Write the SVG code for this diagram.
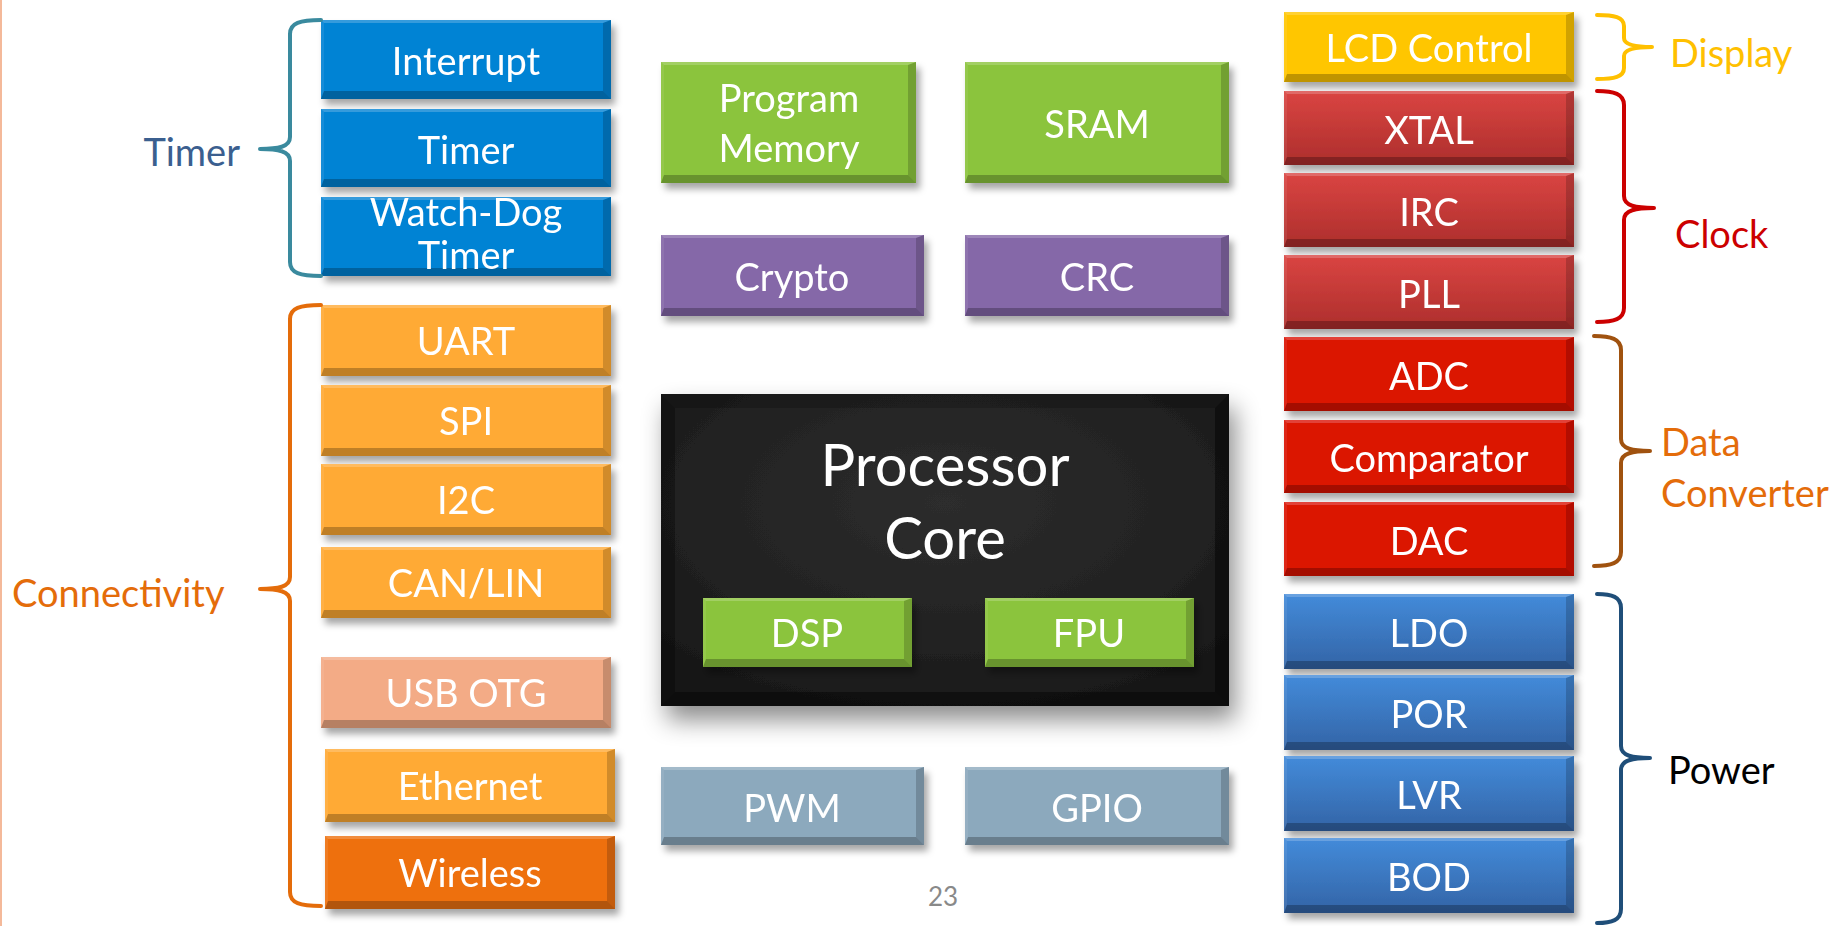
<svg xmlns="http://www.w3.org/2000/svg" width="1835" height="926" viewBox="0 0 1835 926">
<defs>
<filter id="sh" x="-10%" y="-20%" width="125%" height="150%">
<feDropShadow dx="4" dy="6" stdDeviation="3.5" flood-color="#000" flood-opacity="0.35"/>
</filter>
<filter id="shc" x="-10%" y="-10%" width="125%" height="135%">
<feDropShadow dx="6" dy="14" stdDeviation="12" flood-color="#000" flood-opacity="0.45"/>
</filter>
<linearGradient id="gRed" x1="0" y1="0" x2="0" y2="1">
<stop offset="0" stop-color="#DA4542"/><stop offset="1" stop-color="#AD2E2C"/>
</linearGradient>
<linearGradient id="gBlue" x1="0" y1="0" x2="0" y2="1">
<stop offset="0" stop-color="#438BDA"/><stop offset="1" stop-color="#3364A6"/>
</linearGradient>
<radialGradient id="gCore" cx="0.5" cy="0.35" r="0.8">
<stop offset="0" stop-color="#2D2D2D"/><stop offset="0.5" stop-color="#232323"/><stop offset="1" stop-color="#141414"/>
</radialGradient>
</defs>
<style>
text{font-family:Lato,"Open Sans","Liberation Sans",sans-serif;}
.t{fill:#fff;font-size:38px;text-anchor:middle;}
.big{fill:#fff;font-size:58px;text-anchor:middle;}
.bt{fill:#fff;opacity:.2;}
.bl{fill:#fff;opacity:.08;}
.br{fill:#000;opacity:.18;}
.bb{fill:#000;opacity:.25;}
.brace{fill:none;stroke-width:4;stroke-linecap:round;stroke-linejoin:round;}
.lbl{font-size:38px;}
</style>
<rect width="1835" height="926" fill="#fff"/>
<line x1="1" y1="0" x2="1" y2="926" stroke="#F4B99A" stroke-width="2"/>

<!-- Left column: Timer -->
<g id="interrupt" filter="url(#sh)" transform="translate(321,20)">
<rect width="290" height="79" fill="#0483D4"/>
<polygon class="bt" points="0,0 290,0 282,3 3,3"/><polygon class="bl" points="0,0 3,3 3,71 0,79"/>
<polygon class="br" points="290,0 290,79 282,71 282,3"/><polygon class="bb" points="0,79 290,79 282,71 3,71"/>
<text class="t" x="145" y="55">Interrupt</text>
</g>
<g id="timer" filter="url(#sh)" transform="translate(321,109)">
<rect width="290" height="78" fill="#0483D4"/>
<polygon class="bt" points="0,0 290,0 282,3 3,3"/><polygon class="bl" points="0,0 3,3 3,70 0,78"/>
<polygon class="br" points="290,0 290,78 282,70 282,3"/><polygon class="bb" points="0,78 290,78 282,70 3,70"/>
<text class="t" x="145" y="55">Timer</text>
</g>
<g id="watchdog" filter="url(#sh)" transform="translate(321,197)">
<rect width="290" height="79" fill="#0483D4"/>
<polygon class="bt" points="0,0 290,0 282,3 3,3"/><polygon class="bl" points="0,0 3,3 3,71 0,79"/>
<polygon class="br" points="290,0 290,79 282,71 282,3"/><polygon class="bb" points="0,79 290,79 282,71 3,71"/>
<text class="t" x="145" y="29">Watch-Dog</text>
<text class="t" x="145" y="72">Timer</text>
</g>

<!-- Left column: Connectivity -->
<g id="uart" filter="url(#sh)" transform="translate(321,305)">
<rect width="290" height="71" fill="#FFAA36"/>
<polygon class="bt" points="0,0 290,0 282,3 3,3"/><polygon class="bl" points="0,0 3,3 3,63 0,71"/>
<polygon class="br" points="290,0 290,71 282,63 282,3"/><polygon class="bb" points="0,71 290,71 282,63 3,63"/>
<text class="t" x="145" y="50">UART</text>
</g>
<g id="spi" filter="url(#sh)" transform="translate(321,385)">
<rect width="290" height="71" fill="#FFAA36"/>
<polygon class="bt" points="0,0 290,0 282,3 3,3"/><polygon class="bl" points="0,0 3,3 3,63 0,71"/>
<polygon class="br" points="290,0 290,71 282,63 282,3"/><polygon class="bb" points="0,71 290,71 282,63 3,63"/>
<text class="t" x="145" y="50">SPI</text>
</g>
<g id="i2c" filter="url(#sh)" transform="translate(321,464)">
<rect width="290" height="71" fill="#FFAA36"/>
<polygon class="bt" points="0,0 290,0 282,3 3,3"/><polygon class="bl" points="0,0 3,3 3,63 0,71"/>
<polygon class="br" points="290,0 290,71 282,63 282,3"/><polygon class="bb" points="0,71 290,71 282,63 3,63"/>
<text class="t" x="145" y="50">I2C</text>
</g>
<g id="canlin" filter="url(#sh)" transform="translate(321,547)">
<rect width="290" height="71" fill="#FFAA36"/>
<polygon class="bt" points="0,0 290,0 282,3 3,3"/><polygon class="bl" points="0,0 3,3 3,63 0,71"/>
<polygon class="br" points="290,0 290,71 282,63 282,3"/><polygon class="bb" points="0,71 290,71 282,63 3,63"/>
<text class="t" x="145" y="50">CAN/LIN</text>
</g>
<g id="usbotg" filter="url(#sh)" transform="translate(321,657)">
<rect width="290" height="71" fill="#F3AB86"/>
<polygon class="bt" points="0,0 290,0 282,3 3,3"/><polygon class="bl" points="0,0 3,3 3,63 0,71"/>
<polygon class="br" points="290,0 290,71 282,63 282,3"/><polygon class="bb" points="0,71 290,71 282,63 3,63"/>
<text class="t" x="145" y="50">USB OTG</text>
</g>
<g id="ethernet" filter="url(#sh)" transform="translate(325,749)">
<rect width="290" height="73" fill="#FFAA36"/>
<polygon class="bt" points="0,0 290,0 282,3 3,3"/><polygon class="bl" points="0,0 3,3 3,65 0,73"/>
<polygon class="br" points="290,0 290,73 282,65 282,3"/><polygon class="bb" points="0,73 290,73 282,65 3,65"/>
<text class="t" x="145" y="51">Ethernet</text>
</g>
<g id="wireless" filter="url(#sh)" transform="translate(325,836)">
<rect width="290" height="73" fill="#EE700E"/>
<polygon class="bt" points="0,0 290,0 282,3 3,3"/><polygon class="bl" points="0,0 3,3 3,65 0,73"/>
<polygon class="br" points="290,0 290,73 282,65 282,3"/><polygon class="bb" points="0,73 290,73 282,65 3,65"/>
<text class="t" x="145" y="51">Wireless</text>
</g>

<!-- Center column -->
<g id="program-memory" filter="url(#sh)" transform="translate(661,62)">
<rect width="255" height="121" fill="#8BC43D"/>
<polygon class="bt" points="0,0 255,0 247,3 3,3"/><polygon class="bl" points="0,0 3,3 3,113 0,121"/>
<polygon class="br" points="255,0 255,121 247,113 247,3"/><polygon class="bb" points="0,121 255,121 247,113 3,113"/>
<text class="t" x="128" y="50">Program</text>
<text class="t" x="128" y="100">Memory</text>
</g>
<g id="sram" filter="url(#sh)" transform="translate(965,62)">
<rect width="264" height="121" fill="#8BC43D"/>
<polygon class="bt" points="0,0 264,0 256,3 3,3"/><polygon class="bl" points="0,0 3,3 3,113 0,121"/>
<polygon class="br" points="264,0 264,121 256,113 256,3"/><polygon class="bb" points="0,121 264,121 256,113 3,113"/>
<text class="t" x="132" y="76">SRAM</text>
</g>
<g id="crypto" filter="url(#sh)" transform="translate(661,235)">
<rect width="263" height="81" fill="#8568A8"/>
<polygon class="bt" points="0,0 263,0 255,3 3,3"/><polygon class="bl" points="0,0 3,3 3,73 0,81"/>
<polygon class="br" points="263,0 263,81 255,73 255,3"/><polygon class="bb" points="0,81 263,81 255,73 3,73"/>
<text class="t" x="131" y="56">Crypto</text>
</g>
<g id="crc" filter="url(#sh)" transform="translate(965,235)">
<rect width="264" height="81" fill="#8568A8"/>
<polygon class="bt" points="0,0 264,0 256,3 3,3"/><polygon class="bl" points="0,0 3,3 3,73 0,81"/>
<polygon class="br" points="264,0 264,81 256,73 256,3"/><polygon class="bb" points="0,81 264,81 256,73 3,73"/>
<text class="t" x="132" y="56">CRC</text>
</g>

<g id="processor-core" transform="translate(661,394)">
<g filter="url(#shc)">
<rect width="568" height="312" fill="url(#gCore)"/>
</g>
<polygon fill="#000" opacity=".18" points="0,0 568,0 554,14 14,14"/>
<polygon fill="#000" opacity=".3" points="0,0 14,14 14,298 0,312"/>
<polygon fill="#000" opacity=".45" points="568,0 568,312 554,298 554,14"/>
<polygon fill="#000" opacity=".4" points="0,312 568,312 554,298 14,298"/>
<text class="big" x="284" y="92">Processor</text>
<text class="big" x="284" y="165">Core</text>
</g>
<g id="dsp" filter="url(#sh)" transform="translate(703,598)">
<rect width="209" height="69" fill="#8BC43D"/>
<polygon class="bt" points="0,0 209,0 201,3 3,3"/><polygon class="bl" points="0,0 3,3 3,61 0,69"/>
<polygon class="br" points="209,0 209,69 201,61 201,3"/><polygon class="bb" points="0,69 209,69 201,61 3,61"/>
<text class="t" x="104" y="49">DSP</text>
</g>
<g id="fpu" filter="url(#sh)" transform="translate(985,598)">
<rect width="209" height="69" fill="#8BC43D"/>
<polygon class="bt" points="0,0 209,0 201,3 3,3"/><polygon class="bl" points="0,0 3,3 3,61 0,69"/>
<polygon class="br" points="209,0 209,69 201,61 201,3"/><polygon class="bb" points="0,69 209,69 201,61 3,61"/>
<text class="t" x="104" y="49">FPU</text>
</g>

<g id="pwm" filter="url(#sh)" transform="translate(661,767)">
<rect width="263" height="78" fill="#8CA9BD"/>
<polygon class="bt" points="0,0 263,0 255,3 3,3"/><polygon class="bl" points="0,0 3,3 3,70 0,78"/>
<polygon class="br" points="263,0 263,78 255,70 255,3"/><polygon class="bb" points="0,78 263,78 255,70 3,70"/>
<text class="t" x="131" y="55">PWM</text>
</g>
<g id="gpio" filter="url(#sh)" transform="translate(965,767)">
<rect width="264" height="78" fill="#8CA9BD"/>
<polygon class="bt" points="0,0 264,0 256,3 3,3"/><polygon class="bl" points="0,0 3,3 3,70 0,78"/>
<polygon class="br" points="264,0 264,78 256,70 256,3"/><polygon class="bb" points="0,78 264,78 256,70 3,70"/>
<text class="t" x="132" y="55">GPIO</text>
</g>

<!-- Right column -->
<g id="lcd-control" filter="url(#sh)" transform="translate(1284,12)">
<rect width="290" height="70" fill="#FFC600"/>
<polygon class="bt" points="0,0 290,0 282,3 3,3"/><polygon class="bl" points="0,0 3,3 3,62 0,70"/>
<polygon class="br" points="290,0 290,70 282,62 282,3"/><polygon class="bb" points="0,70 290,70 282,62 3,62"/>
<text class="t" x="145" y="50">LCD Control</text>
</g>
<g id="xtal" filter="url(#sh)" transform="translate(1284,91)">
<rect width="290" height="74" fill="url(#gRed)"/>
<polygon class="bt" points="0,0 290,0 282,3 3,3"/><polygon class="bl" points="0,0 3,3 3,66 0,74"/>
<polygon class="br" points="290,0 290,74 282,66 282,3"/><polygon class="bb" points="0,74 290,74 282,66 3,66"/>
<text class="t" x="145" y="53">XTAL</text>
</g>
<g id="irc" filter="url(#sh)" transform="translate(1284,173)">
<rect width="290" height="74" fill="url(#gRed)"/>
<polygon class="bt" points="0,0 290,0 282,3 3,3"/><polygon class="bl" points="0,0 3,3 3,66 0,74"/>
<polygon class="br" points="290,0 290,74 282,66 282,3"/><polygon class="bb" points="0,74 290,74 282,66 3,66"/>
<text class="t" x="145" y="53">IRC</text>
</g>
<g id="pll" filter="url(#sh)" transform="translate(1284,255)">
<rect width="290" height="74" fill="url(#gRed)"/>
<polygon class="bt" points="0,0 290,0 282,3 3,3"/><polygon class="bl" points="0,0 3,3 3,66 0,74"/>
<polygon class="br" points="290,0 290,74 282,66 282,3"/><polygon class="bb" points="0,74 290,74 282,66 3,66"/>
<text class="t" x="145" y="53">PLL</text>
</g>
<g id="adc" filter="url(#sh)" transform="translate(1284,337)">
<rect width="290" height="74" fill="#DB1405"/>
<polygon class="bt" points="0,0 290,0 282,3 3,3"/><polygon class="bl" points="0,0 3,3 3,66 0,74"/>
<polygon class="br" points="290,0 290,74 282,66 282,3"/><polygon class="bb" points="0,74 290,74 282,66 3,66"/>
<text class="t" x="145" y="53">ADC</text>
</g>
<g id="comparator" filter="url(#sh)" transform="translate(1284,420)">
<rect width="290" height="73" fill="#DB1405"/>
<polygon class="bt" points="0,0 290,0 282,3 3,3"/><polygon class="bl" points="0,0 3,3 3,65 0,73"/>
<polygon class="br" points="290,0 290,73 282,65 282,3"/><polygon class="bb" points="0,73 290,73 282,65 3,65"/>
<text class="t" x="145" y="52">Comparator</text>
</g>
<g id="dac" filter="url(#sh)" transform="translate(1284,502)">
<rect width="290" height="74" fill="#DB1405"/>
<polygon class="bt" points="0,0 290,0 282,3 3,3"/><polygon class="bl" points="0,0 3,3 3,66 0,74"/>
<polygon class="br" points="290,0 290,74 282,66 282,3"/><polygon class="bb" points="0,74 290,74 282,66 3,66"/>
<text class="t" x="145" y="53">DAC</text>
</g>
<g id="ldo" filter="url(#sh)" transform="translate(1284,594)">
<rect width="290" height="75" fill="url(#gBlue)"/>
<polygon class="bt" points="0,0 290,0 282,3 3,3"/><polygon class="bl" points="0,0 3,3 3,67 0,75"/>
<polygon class="br" points="290,0 290,75 282,67 282,3"/><polygon class="bb" points="0,75 290,75 282,67 3,67"/>
<text class="t" x="145" y="53">LDO</text>
</g>
<g id="por" filter="url(#sh)" transform="translate(1284,675)">
<rect width="290" height="75" fill="url(#gBlue)"/>
<polygon class="bt" points="0,0 290,0 282,3 3,3"/><polygon class="bl" points="0,0 3,3 3,67 0,75"/>
<polygon class="br" points="290,0 290,75 282,67 282,3"/><polygon class="bb" points="0,75 290,75 282,67 3,67"/>
<text class="t" x="145" y="53">POR</text>
</g>
<g id="lvr" filter="url(#sh)" transform="translate(1284,756)">
<rect width="290" height="75" fill="url(#gBlue)"/>
<polygon class="bt" points="0,0 290,0 282,3 3,3"/><polygon class="bl" points="0,0 3,3 3,67 0,75"/>
<polygon class="br" points="290,0 290,75 282,67 282,3"/><polygon class="bb" points="0,75 290,75 282,67 3,67"/>
<text class="t" x="145" y="53">LVR</text>
</g>
<g id="bod" filter="url(#sh)" transform="translate(1284,838)">
<rect width="290" height="75" fill="url(#gBlue)"/>
<polygon class="bt" points="0,0 290,0 282,3 3,3"/><polygon class="bl" points="0,0 3,3 3,67 0,75"/>
<polygon class="br" points="290,0 290,75 282,67 282,3"/><polygon class="bb" points="0,75 290,75 282,67 3,67"/>
<text class="t" x="145" y="53">BOD</text>
</g>

<!-- Brackets -->
<g id="connectors">
<path class="brace" stroke="#3A8A9E" d="M321,20 C300,20 290,23 290,34 L290,137 C290,147 278,149 260,149 C278,149 290,151 290,161 L290,262 C290,273 300,276 321,276"/>
<path class="brace" stroke="#E46C0A" d="M321,305 C300,305 290,308 290,319 L290,577 C290,587 278,589 260,589 C278,589 290,591 290,601 L290,892 C290,903 300,906 321,906"/>
<path class="brace" stroke="#FFC000" d="M1597,15 C1614,15 1624,17 1624,26 L1624,38 C1624,45 1636,47 1652,47 C1636,47 1624,49 1624,56 L1624,68 C1624,77 1614,79 1597,79"/>
<path class="brace" stroke="#CC0000" d="M1597,91 C1614,91 1624,94 1624,105 L1624,196 C1624,206 1636,208 1654,208 C1636,208 1624,210 1624,220 L1624,308 C1624,319 1614,322 1597,322"/>
<path class="brace" stroke="#A0520F" d="M1594,336 C1611,336 1621,339 1621,350 L1621,439 C1621,449 1633,451 1650,451 C1633,451 1621,453 1621,463 L1621,552 C1621,563 1611,566 1594,566"/>
<path class="brace" stroke="#1F4E79" d="M1597,594 C1612,594 1621,597 1621,608 L1621,746 C1621,756 1633,758 1650,758 C1633,758 1621,760 1621,770 L1621,909 C1621,920 1612,923 1597,923"/>
</g>

<!-- Group labels -->
<g id="label-timer"><text class="lbl" x="240" y="166" text-anchor="end" fill="#3B5F8F">Timer</text></g>
<g id="label-connectivity"><text class="lbl" x="12" y="607" fill="#E46C0A">Connectivity</text></g>
<g id="label-display"><text class="lbl" x="1670" y="67" fill="#FFC000">Display</text></g>
<g id="label-clock"><text class="lbl" x="1675" y="248" fill="#CC0000">Clock</text></g>
<g id="label-data-converter"><text class="lbl" x="1661" y="456" fill="#E46C0A">Data</text><text class="lbl" x="1661" y="507" fill="#E46C0A">Converter</text></g>
<g id="label-power"><text class="lbl" x="1668" y="784" fill="#000">Power</text></g>
<g id="page-number"><text x="943" y="906" font-size="26" text-anchor="middle" fill="#898989">23</text></g>
</svg>
